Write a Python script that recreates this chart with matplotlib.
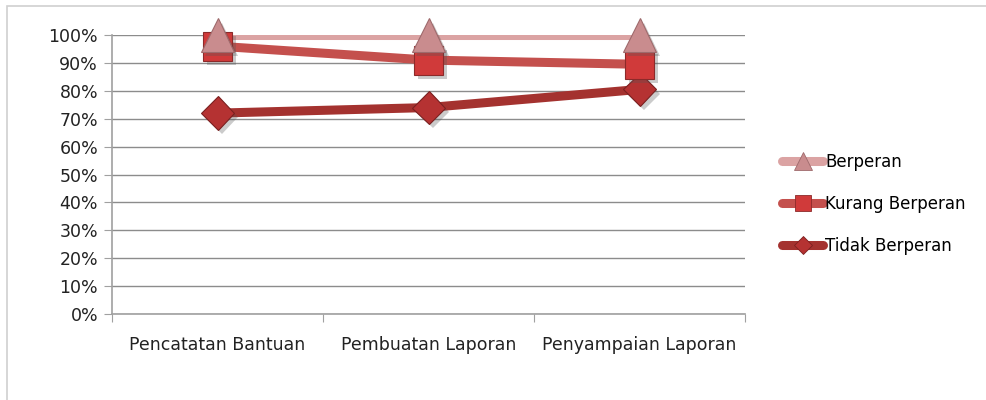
import numpy as np
import matplotlib.pyplot as plt
import matplotlib.patheffects as pe
from matplotlib.ticker import PercentFormatter, FixedLocator

categories = ["Pencatatan Bantuan", "Pembuatan Laporan", "Penyampaian Laporan"]
berperan = [100, 100, 100]
kurang_berperan = [96, 91, 89.5]
tidak_berperan = [72, 74, 80.5]

plt.rcParams['font.family'] = ['DejaVu Sans']

fig = plt.figure(figsize=(9.86, 4.0), dpi=100)
ax = fig.add_axes([112 / 986, 1 - 314 / 400, (745 - 112) / 986, (314 - 35) / 400])

# outer chart border
fig.patches.append(plt.Rectangle((7 / 986, -0.05), 1.2, (400 - 6) / 400 + 0.05,
                                 transform=fig.transFigure, fill=False,
                                 edgecolor='#d0d0d0', linewidth=1.2))

x = np.arange(len(categories)) + 0.5
shadow = [pe.SimplePatchShadow(offset=(3, -3), shadow_rgbFace='#555555', alpha=0.3), pe.Normal()]

series = [
    ("Berperan", berperan, '#dba3a3', '^', '#c98c8e', '#9e6a6c', 24),
    ("Kurang Berperan", kurang_berperan, '#c4504d', 's', '#d03a3a', '#8c2a2a', 21),
    ("Tidak Berperan", tidak_berperan, '#a4322f', 'D', '#b53232', '#7a2020', 17),
]

handles = []
for i, (name, vals, lc, mk, fc, ec, ms) in enumerate(series):
    z = 10 - 2 * i
    ax.plot(x, vals, color=lc, linewidth=6.5, solid_capstyle='round', zorder=3)
    ax.plot(x, vals, linestyle='none', marker=mk, markersize=ms, markerfacecolor=fc,
            markeredgecolor=ec, markeredgewidth=0.8, zorder=z, path_effects=shadow,
            clip_on=False)
    h, = ax.plot([], [], color=lc, linewidth=6.5, solid_capstyle='round', marker=mk,
                 markersize=ms * 0.55, markerfacecolor=fc, markeredgecolor=ec,
                 markeredgewidth=0.6)
    handles.append(h)

ax.set_xlim(0, 3)
ax.set_ylim(0, 100)
ax.yaxis.set_major_locator(FixedLocator(np.arange(0, 101, 10)))
ax.yaxis.set_major_formatter(PercentFormatter(decimals=0))
ax.xaxis.set_major_locator(FixedLocator([0, 1, 2, 3]))
ax.xaxis.set_minor_locator(FixedLocator(x))
ax.set_xticklabels([], minor=False)
ax.set_xticklabels(categories, minor=True)
ax.tick_params(axis='x', which='minor', length=0, pad=16, labelsize=12.5, labelcolor='#222222')
ax.tick_params(axis='x', which='major', length=6, direction='out', color='#a0a0a0')
ax.tick_params(axis='y', length=6, direction='out', color='#a0a0a0', labelsize=12.5,
               labelcolor='#222222', pad=4)

ax.grid(axis='y', color='#8c8c8c', linewidth=1.0)
ax.set_axisbelow(True)
for s in ['top', 'right']:
    ax.spines[s].set_visible(False)
ax.spines['left'].set_color('#a0a0a0')
ax.spines['bottom'].set_color('#a0a0a0')
ax.spines['left'].set_linewidth(1.2)
ax.spines['bottom'].set_linewidth(1.2)

fig.legend(handles, [s[0] for s in series], loc='center left',
           bbox_to_anchor=(770 / 986, 1 - 204 / 400), frameon=False,
           fontsize=12, handlelength=2.5, labelspacing=1.45, handletextpad=0.1,
           borderpad=0.2)

fig.savefig("out.png", dpi=100)
